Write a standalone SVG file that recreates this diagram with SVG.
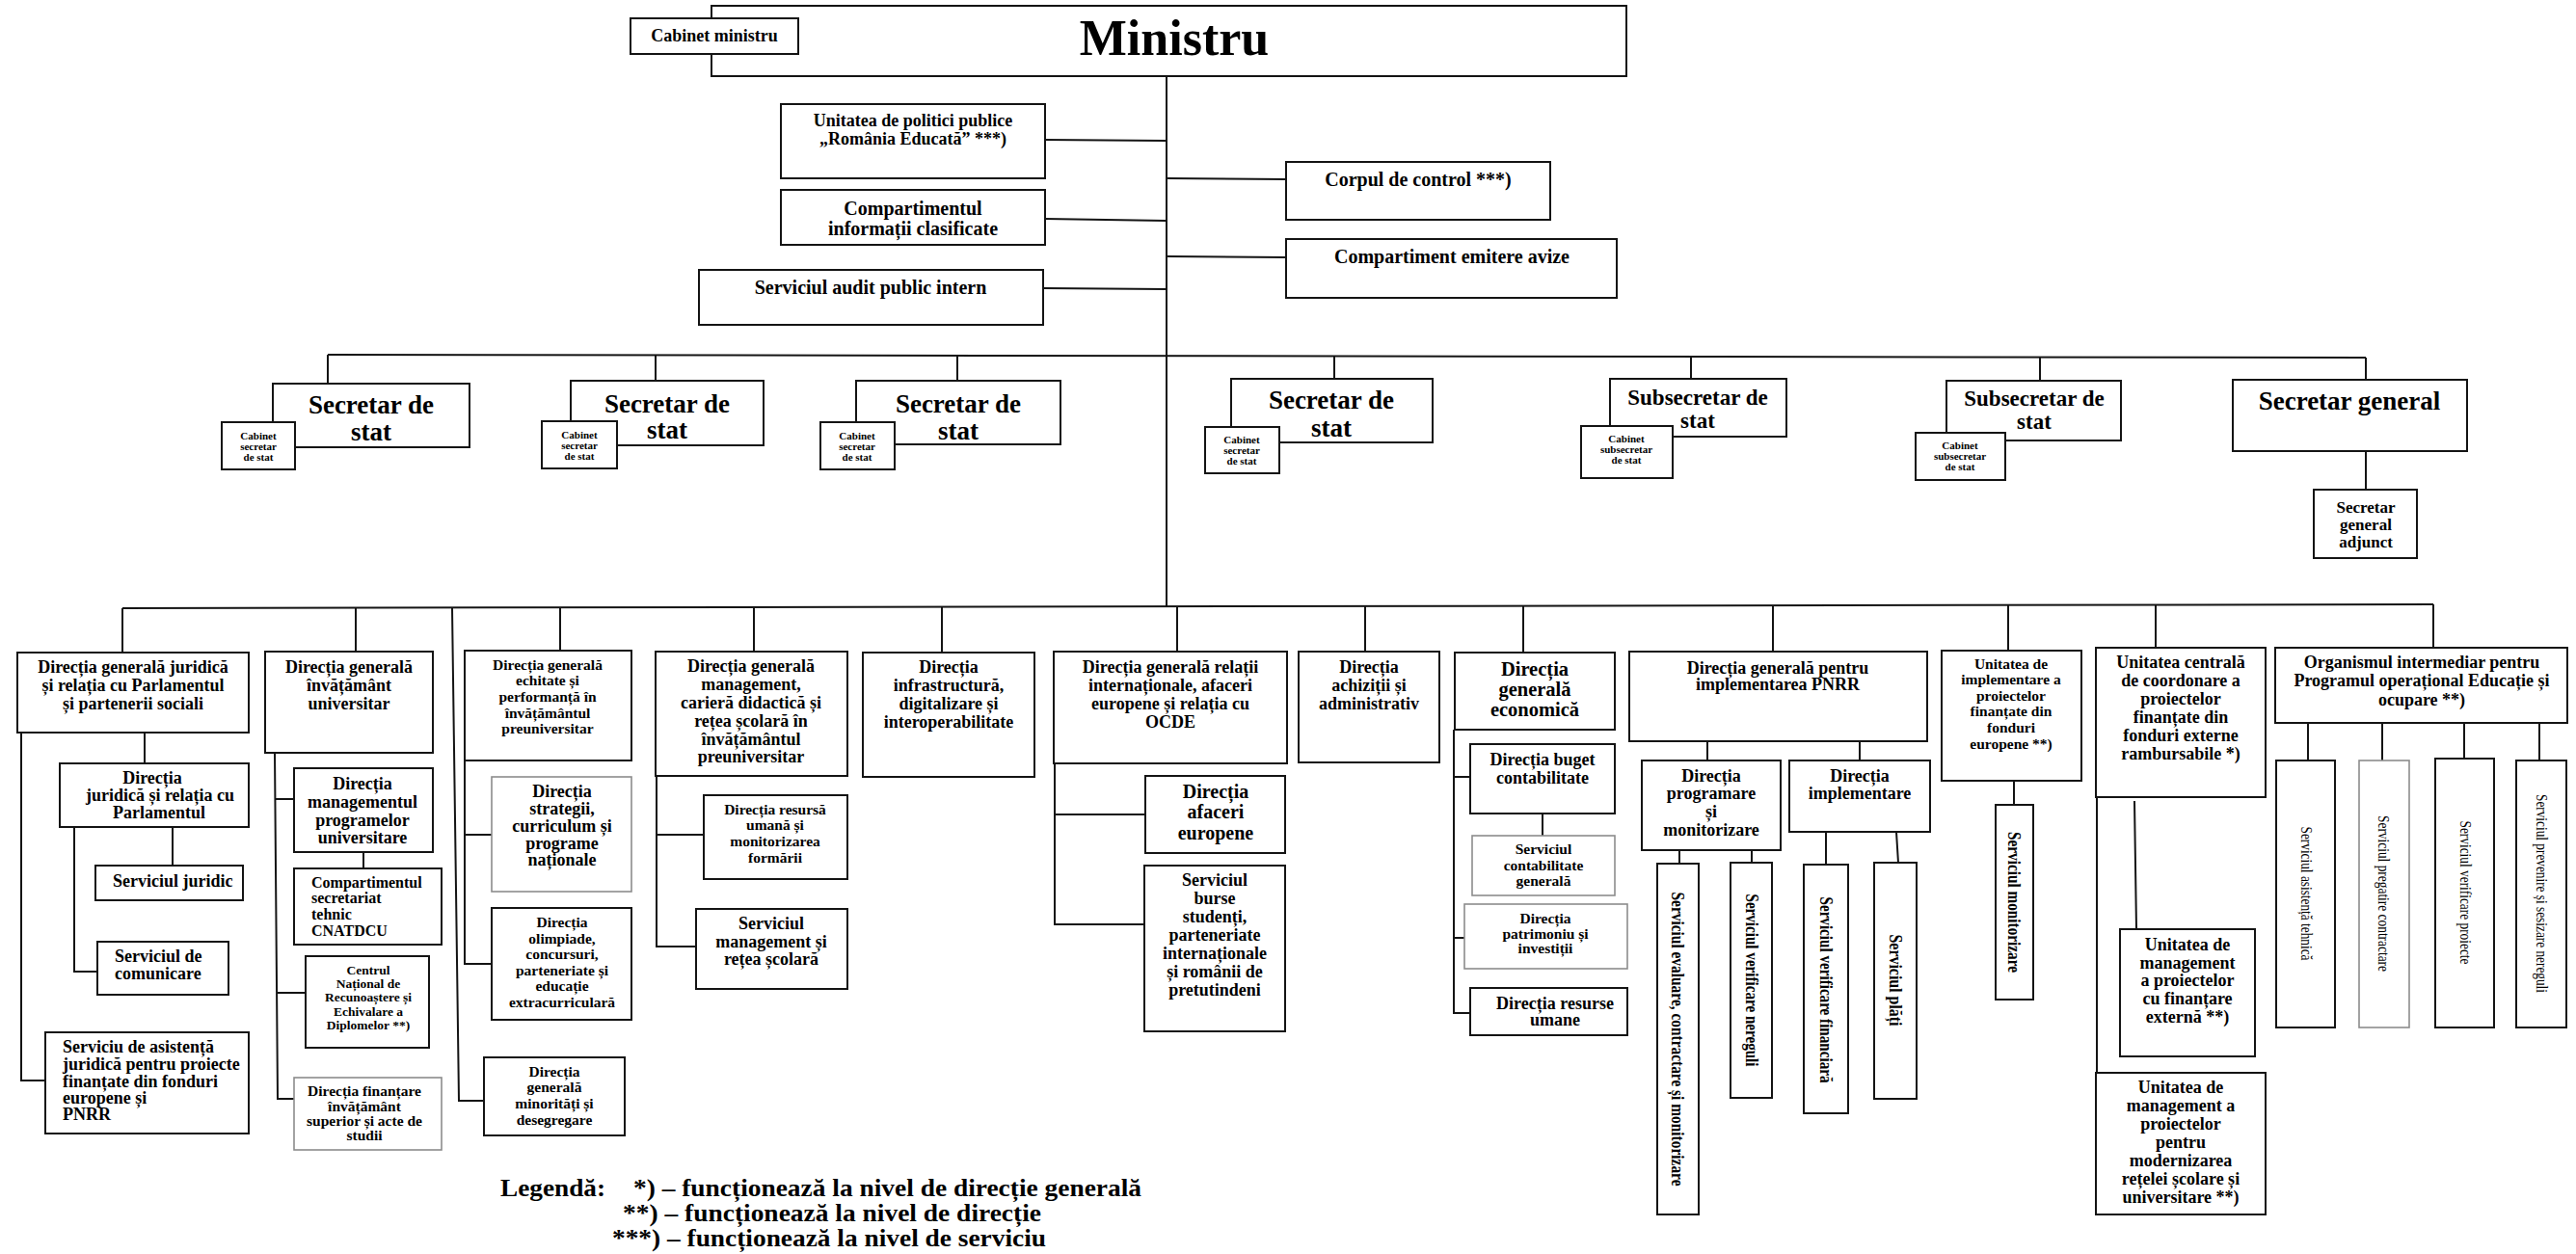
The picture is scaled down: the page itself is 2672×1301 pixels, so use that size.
<svg xmlns="http://www.w3.org/2000/svg" width="2672" height="1301" viewBox="0 0 2672 1301">
<style>
.b{fill:#fff;stroke:#141414;stroke-width:2}
.g{fill:#fff;stroke:#8c8c8c;stroke-width:1.6}
.c{stroke:#141414;stroke-width:2;fill:none}
text{font-family:"Liberation Serif","Times New Roman",serif;font-weight:bold;fill:#000}
.m{text-anchor:middle}
.v{text-anchor:middle;dominant-baseline:central}
.r{font-weight:normal}
.f11{font-size:11px}.f13{font-size:13.5px}.f15{font-size:15.5px}.f16{font-size:16px}
.f17{font-size:17px}.f18{font-size:18px}.f20{font-size:20px}.f21{font-size:20.5px}
.f23{font-size:23px}.f27{font-size:27px}.f52{font-size:52px}.f24{font-size:25px}
</style>
<rect width="2672" height="1301" fill="#fff"/>

<g id="connectors">
<path class="c" d="M1210 79V630"/>
<path class="c" d="M1084 145L1210 146M1084 227L1210 229M1082 299L1210 300M1210 185L1334 186M1210 266L1334 267"/>
<path class="c" d="M340 368L2454 371"/>
<path class="c" d="M340 368V398M680 369V395M993 369V395M1384 370V393M1754 370V393M2116 370V395M2454 371V394M2454 468V508"/>
<path class="c" d="M127 631L2524 627"/>
<path class="c" d="M127 631V677M369 631V676M581 630V675M782 630V676M977 630V677M1221 630V676M1416 629V676M1580 629V677M1839 629V676M2083 628V675M2236 627V672M2524 627V672"/>
<path class="c" d="M469 631L476 1142H502"/>
<path class="c" d="M150 760V792M179 858V898M77 858V1008H101M22 760V1121H47"/>
<path class="c" d="M285 781L288 1140H305M285 829H305M287 1030H317M377 884V901"/>
<path class="c" d="M482 782V1000H510M482 866H510"/>
<path class="c" d="M681 805V982H722M681 866H730"/>
<path class="c" d="M1094 792V959H1187M1094 845H1188"/>
<path class="c" d="M1508 757V1051H1525M1508 806H1525M1508 973H1519M1600 844V867"/>
<path class="c" d="M1771 769V789M1929 769V789M1742 882V896M1817 882V895M1894 863V897M1967 863L1969 895"/>
<path class="c" d="M2089 810V835M2214 831L2216 964M2175 824V1113"/>
<path class="c" d="M2394 750V789M2471 750V789M2556 750V787M2634 750V789"/>
</g>

<g id="ministru"><rect class="b" x="738" y="6" width="949" height="73"/><text class="m f52" x="1218" y="57">Ministru</text></g>
<g id="cabinet-ministru"><rect class="b" x="654" y="19" width="174" height="37"/><text class="m f18" x="741" y="43">Cabinet ministru</text></g>
<g id="unitatea-politici"><rect class="b" x="810" y="108" width="274" height="77"/><text class="m f18"><tspan x="947" y="131">Unitatea de politici publice</tspan><tspan x="947" y="150">„România Educată” ***)</tspan></text></g>
<g id="comp-informatii"><rect class="b" x="810" y="197" width="274" height="57"/><text class="m f20"><tspan x="947" y="223">Compartimentul</tspan><tspan x="947" y="244">informații clasificate</tspan></text></g>
<g id="audit"><rect class="b" x="725" y="280" width="357" height="57"/><text class="m f20" x="903" y="305">Serviciul audit public intern</text></g>
<g id="corpul-control"><rect class="b" x="1334" y="168" width="274" height="60"/><text class="m f20" x="1471" y="193">Corpul de control ***)</text></g>
<g id="emitere-avize"><rect class="b" x="1334" y="248" width="343" height="61"/><text class="m f20" x="1506" y="273">Compartiment emitere avize</text></g>

<g id="secretar1"><rect class="b" x="283" y="398" width="204" height="66"/><text class="m f27"><tspan x="385" y="429">Secretar de</tspan><tspan x="385" y="457">stat</tspan></text>
<rect class="b" x="230" y="438" width="76" height="49"/><text class="m f11"><tspan x="268" y="456">Cabinet</tspan><tspan x="268" y="467">secretar</tspan><tspan x="268" y="478">de stat</tspan></text></g>
<g id="secretar2"><rect class="b" x="592" y="395" width="200" height="67"/><text class="m f27"><tspan x="692" y="428">Secretar de</tspan><tspan x="692" y="455">stat</tspan></text>
<rect class="b" x="562" y="437" width="78" height="49"/><text class="m f11"><tspan x="601" y="455">Cabinet</tspan><tspan x="601" y="466">secretar</tspan><tspan x="601" y="477">de stat</tspan></text></g>
<g id="secretar3"><rect class="b" x="888" y="395" width="212" height="66"/><text class="m f27"><tspan x="994" y="428">Secretar de</tspan><tspan x="994" y="456">stat</tspan></text>
<rect class="b" x="851" y="438" width="77" height="49"/><text class="m f11"><tspan x="889" y="456">Cabinet</tspan><tspan x="889" y="467">secretar</tspan><tspan x="889" y="478">de stat</tspan></text></g>
<g id="secretar4"><rect class="b" x="1277" y="393" width="209" height="66"/><text class="m f27"><tspan x="1381" y="424">Secretar de</tspan><tspan x="1381" y="453">stat</tspan></text>
<rect class="b" x="1250" y="443" width="77" height="48"/><text class="m f11"><tspan x="1288" y="460">Cabinet</tspan><tspan x="1288" y="471">secretar</tspan><tspan x="1288" y="482">de stat</tspan></text></g>
<g id="subsecretar1"><rect class="b" x="1670" y="393" width="183" height="60"/><text class="m f23"><tspan x="1761" y="420">Subsecretar de</tspan><tspan x="1761" y="444">stat</tspan></text>
<rect class="b" x="1640" y="442" width="95" height="54"/><text class="m f11"><tspan x="1687" y="459">Cabinet</tspan><tspan x="1687" y="470">subsecretar</tspan><tspan x="1687" y="481">de stat</tspan></text></g>
<g id="subsecretar2"><rect class="b" x="2019" y="395" width="181" height="62"/><text class="m f23"><tspan x="2110" y="421">Subsecretar de</tspan><tspan x="2110" y="445">stat</tspan></text>
<rect class="b" x="1987" y="449" width="93" height="49"/><text class="m f11"><tspan x="2033" y="466">Cabinet</tspan><tspan x="2033" y="477">subsecretar</tspan><tspan x="2033" y="488">de stat</tspan></text></g>
<g id="secretar-general"><rect class="b" x="2316" y="394" width="243" height="74"/><text class="m f27" x="2437" y="425">Secretar general</text></g>
<g id="sg-adjunct"><rect class="b" x="2400" y="508" width="107" height="71"/><text class="m f17"><tspan x="2454" y="532">Secretar</tspan><tspan x="2454" y="550">general</tspan><tspan x="2454" y="568">adjunct</tspan></text></g>

<g id="dgj"><rect class="b" x="18" y="677" width="240" height="83"/><text class="m f18"><tspan x="138" y="698">Direcția generală juridică</tspan><tspan x="138" y="717">și relația cu Parlamentul</tspan><tspan x="138" y="736">și partenerii sociali</tspan></text></g>
<g id="djrp"><rect class="b" x="62" y="792" width="196" height="66"/><text class="m f18"><tspan x="158" y="813">Direcția</tspan><tspan x="166" y="831">juridică și relația cu</tspan><tspan x="165" y="849">Parlamentul</tspan></text></g>
<g id="serv-juridic"><rect class="b" x="99" y="898" width="153" height="36"/><text class="f18" x="117" y="920">Serviciul juridic</text></g>
<g id="serv-comunicare"><rect class="b" x="101" y="977" width="136" height="55"/><text class="f18"><tspan x="119" y="998">Serviciul de</tspan><tspan x="119" y="1016">comunicare</tspan></text></g>
<g id="serv-asistenta"><rect class="b" x="47" y="1071" width="211" height="105"/><text class="f18"><tspan x="65" y="1092">Serviciu de asistență</tspan><tspan x="65" y="1110">juridică pentru proiecte</tspan><tspan x="65" y="1128">finanțate din fonduri</tspan><tspan x="65" y="1145">europene și</tspan><tspan x="65" y="1162">PNRR</tspan></text></g>

<g id="dgu"><rect class="b" x="275" y="676" width="174" height="105"/><text class="m f18"><tspan x="362" y="698">Direcția generală</tspan><tspan x="362" y="717">învățământ</tspan><tspan x="362" y="736">universitar</tspan></text></g>
<g id="dmpu"><rect class="b" x="305" y="797" width="144" height="87"/><text class="m f18"><tspan x="376" y="819">Direcția</tspan><tspan x="376" y="838">managementul</tspan><tspan x="376" y="857">programelor</tspan><tspan x="376" y="875">universitare</tspan></text></g>
<g id="comp-cnatdcu"><rect class="b" x="305" y="901" width="153" height="79"/><text class="f16"><tspan x="323" y="921">Compartimentul</tspan><tspan x="323" y="937">secretariat</tspan><tspan x="323" y="954">tehnic</tspan><tspan x="323" y="971">CNATDCU</tspan></text></g>
<g id="cnred"><rect class="b" x="317" y="992" width="128" height="95"/><text class="m f13"><tspan x="382" y="1011">Centrul</tspan><tspan x="382" y="1025">Național de</tspan><tspan x="382" y="1039">Recunoaștere și</tspan><tspan x="382" y="1054">Echivalare a</tspan><tspan x="382" y="1068">Diplomelor **)</tspan></text></g>
<g id="finantare"><rect class="g" x="305" y="1118" width="153" height="75"/><text class="m f15"><tspan x="378" y="1137">Direcția finanțare</tspan><tspan x="378" y="1153">învățământ</tspan><tspan x="378" y="1168">superior și acte de</tspan><tspan x="378" y="1183">studii</tspan></text></g>

<g id="dg-echitate"><rect class="b" x="482" y="675" width="173" height="114"/><text class="m f15"><tspan x="568" y="695">Direcția generală</tspan><tspan x="568" y="711">echitate și</tspan><tspan x="568" y="728">performanță  în</tspan><tspan x="568" y="745">învățământul</tspan><tspan x="568" y="761">preuniversitar</tspan></text></g>
<g id="strategii"><rect class="g" x="510" y="806" width="145" height="119"/><text class="m f18"><tspan x="583" y="827">Direcția</tspan><tspan x="583" y="845">strategii,</tspan><tspan x="583" y="863">curriculum și</tspan><tspan x="583" y="881">programe</tspan><tspan x="583" y="898">naționale</tspan></text></g>
<g id="olimpiade"><rect class="b" x="510" y="942" width="145" height="116"/><text class="m f15"><tspan x="583" y="962">Direcția</tspan><tspan x="583" y="979">olimpiade,</tspan><tspan x="583" y="995">concursuri,</tspan><tspan x="583" y="1012">parteneriate și</tspan><tspan x="583" y="1028">educație</tspan><tspan x="583" y="1045">extracurriculară</tspan></text></g>
<g id="minoritati"><rect class="b" x="502" y="1097" width="146" height="81"/><text class="m f15"><tspan x="575" y="1117">Direcția</tspan><tspan x="575" y="1133">generală</tspan><tspan x="575" y="1150">minorități și</tspan><tspan x="575" y="1167">desegregare</tspan></text></g>

<g id="dgm"><rect class="b" x="680" y="676" width="199" height="129"/><text class="m f18"><tspan x="779" y="697">Direcția generală</tspan><tspan x="779" y="716">management,</tspan><tspan x="779" y="735">carieră didactică și</tspan><tspan x="779" y="754">rețea școlară în</tspan><tspan x="779" y="773">învățământul</tspan><tspan x="779" y="791">preuniversitar</tspan></text></g>
<g id="resursa-umana"><rect class="b" x="730" y="825" width="149" height="87"/><text class="m f15"><tspan x="804" y="845">Direcția resursă</tspan><tspan x="804" y="861">umană și</tspan><tspan x="804" y="878">monitorizarea</tspan><tspan x="804" y="895">formării</tspan></text></g>
<g id="serv-retea"><rect class="b" x="722" y="943" width="157" height="83"/><text class="m f18"><tspan x="800" y="964">Serviciul</tspan><tspan x="800" y="983">management și</tspan><tspan x="800" y="1001">rețea școlară</tspan></text></g>

<g id="infrastructura"><rect class="b" x="895" y="677" width="178" height="129"/><text class="m f18"><tspan x="984" y="698">Direcția</tspan><tspan x="984" y="717">infrastructură,</tspan><tspan x="984" y="736">digitalizare și</tspan><tspan x="984" y="755">interoperabilitate</tspan></text></g>

<g id="dgri"><rect class="b" x="1093" y="676" width="242" height="116"/><text class="m f18"><tspan x="1214" y="698">Direcția generală relații</tspan><tspan x="1214" y="717">internaționale, afaceri</tspan><tspan x="1214" y="736">europene și relația cu</tspan><tspan x="1214" y="755">OCDE</tspan></text></g>
<g id="afaceri-europene"><rect class="b" x="1188" y="805" width="145" height="80"/><text class="m f20"><tspan x="1261" y="828">Direcția</tspan><tspan x="1261" y="849">afaceri</tspan><tspan x="1261" y="871">europene</tspan></text></g>
<g id="serv-burse"><rect class="b" x="1187" y="898" width="146" height="172"/><text class="m f18"><tspan x="1260" y="919">Serviciul</tspan><tspan x="1260" y="938">burse</tspan><tspan x="1260" y="957">studenți,</tspan><tspan x="1260" y="976">parteneriate</tspan><tspan x="1260" y="995">internaționale</tspan><tspan x="1260" y="1014">și românii de</tspan><tspan x="1260" y="1033">pretutindeni</tspan></text></g>

<g id="achizitii"><rect class="b" x="1347" y="676" width="146" height="115"/><text class="m f18"><tspan x="1420" y="698">Direcția</tspan><tspan x="1420" y="717">achiziții și</tspan><tspan x="1420" y="736">administrativ</tspan></text></g>

<g id="dge"><rect class="b" x="1509" y="677" width="166" height="80"/><text class="m f21"><tspan x="1592" y="701">Direcția</tspan><tspan x="1592" y="722">generală</tspan><tspan x="1592" y="743">economică</tspan></text></g>
<g id="buget"><rect class="b" x="1525" y="772" width="150" height="72"/><text class="m f18"><tspan x="1600" y="794">Direcția buget</tspan><tspan x="1600" y="813">contabilitate</tspan></text></g>
<g id="serv-contabilitate"><rect class="g" x="1527" y="867" width="148" height="62"/><text class="m f15"><tspan x="1601" y="886">Serviciul</tspan><tspan x="1601" y="903">contabilitate</tspan><tspan x="1601" y="919">generală</tspan></text></g>
<g id="patrimoniu"><rect class="g" x="1519" y="938" width="169" height="67"/><text class="m f15"><tspan x="1603" y="958">Direcția</tspan><tspan x="1603" y="974">patrimoniu și</tspan><tspan x="1603" y="989">investiții</tspan></text></g>
<g id="resurse-umane"><rect class="b" x="1525" y="1025" width="163" height="49"/><text class="m f18"><tspan x="1613" y="1047">Direcția resurse</tspan><tspan x="1613" y="1064">umane</tspan></text></g>

<g id="dg-pnrr"><rect class="b" x="1690" y="676" width="309" height="93"/><text class="m f18"><tspan x="1844" y="699">Direcția generală pentru</tspan><tspan x="1844" y="716">implementarea PNRR</tspan></text></g>
<g id="programare"><rect class="b" x="1703" y="789" width="144" height="93"/><text class="m f18"><tspan x="1775" y="811">Direcția</tspan><tspan x="1775" y="829">programare</tspan><tspan x="1775" y="848">și</tspan><tspan x="1775" y="867">monitorizare</tspan></text></g>
<g id="implementare"><rect class="b" x="1856" y="789" width="146" height="74"/><text class="m f18"><tspan x="1929" y="811">Direcția</tspan><tspan x="1929" y="829">implementare</tspan></text></g>
<g id="serv-evaluare"><rect class="b" x="1719" y="896" width="43" height="364"/><text class="v f18" x="1740" y="1078" transform="rotate(90 1740 1078)" textLength="305" lengthAdjust="spacingAndGlyphs">Serviciul evaluare, contractare  și monitorizare</text></g>
<g id="serv-nereguli"><rect class="b" x="1795" y="895" width="43" height="244"/><text class="v f18" x="1817" y="1017" transform="rotate(90 1817 1017)" textLength="179" lengthAdjust="spacingAndGlyphs">Serviciul verificare nereguli</text></g>
<g id="serv-financiara"><rect class="b" x="1871" y="897" width="46" height="258"/><text class="v f18" x="1894" y="1027" transform="rotate(90 1894 1027)" textLength="193" lengthAdjust="spacingAndGlyphs">Serviciul verificare financiară</text></g>
<g id="serv-plati"><rect class="b" x="1944" y="895" width="44" height="245"/><text class="v f18" x="1966" y="1017" transform="rotate(90 1966 1017)" textLength="95" lengthAdjust="spacingAndGlyphs">Serviciul  plăți</text></g>

<g id="uip"><rect class="b" x="2014" y="675" width="145" height="135"/><text class="m f15"><tspan x="2086" y="694">Unitatea de</tspan><tspan x="2086" y="710">implementare a</tspan><tspan x="2086" y="727">proiectelor</tspan><tspan x="2086" y="743">finanțate din</tspan><tspan x="2086" y="760">fonduri</tspan><tspan x="2086" y="777">europene **)</tspan></text></g>
<g id="serv-monitorizare"><rect class="b" x="2070" y="835" width="39" height="202"/><text class="v f18" x="2089" y="936" transform="rotate(90 2089 936)" textLength="146" lengthAdjust="spacingAndGlyphs">Serviciul monitorizare</text></g>

<g id="ucc"><rect class="b" x="2174" y="672" width="176" height="155"/><text class="m f18"><tspan x="2262" y="693">Unitatea centrală</tspan><tspan x="2262" y="712">de coordonare a</tspan><tspan x="2262" y="731">proiectelor</tspan><tspan x="2262" y="750">finanțate din</tspan><tspan x="2262" y="769">fonduri  externe</tspan><tspan x="2262" y="788">rambursabile *)</tspan></text></g>
<g id="um-externa"><rect class="b" x="2199" y="964" width="140" height="132"/><text class="m f18"><tspan x="2269" y="986">Unitatea de</tspan><tspan x="2269" y="1005">management</tspan><tspan x="2269" y="1023">a proiectelor</tspan><tspan x="2269" y="1042">cu finanțare</tspan><tspan x="2269" y="1061">externă **)</tspan></text></g>
<g id="um-modernizare"><rect class="b" x="2174" y="1113" width="176" height="147"/><text class="m f18"><tspan x="2262" y="1134">Unitatea de</tspan><tspan x="2262" y="1153">management a</tspan><tspan x="2262" y="1172">proiectelor</tspan><tspan x="2262" y="1191">pentru</tspan><tspan x="2262" y="1210">modernizarea</tspan><tspan x="2262" y="1229">rețelei școlare  și</tspan><tspan x="2262" y="1248">universitare **)</tspan></text></g>

<g id="oi"><rect class="b" x="2360" y="672" width="303" height="78"/><text class="m f18"><tspan x="2512" y="693">Organismul intermediar pentru</tspan><tspan x="2512" y="712">Programul operațional Educație și</tspan><tspan x="2512" y="732">ocupare **)</tspan></text></g>
<g id="serv-asistenta-tehnica"><rect class="b" x="2361" y="789" width="61" height="277"/><text class="v r f16" x="2392" y="927" transform="rotate(90 2392 927)" textLength="139" lengthAdjust="spacingAndGlyphs">Serviciul asistență tehnică</text></g>
<g id="serv-pregatire"><rect class="g" x="2447" y="789" width="52" height="277"/><text class="v r f16" x="2472" y="927" transform="rotate(90 2472 927)" textLength="162" lengthAdjust="spacingAndGlyphs">Serviciul pregatire contractare</text></g>
<g id="serv-verificare-proiecte"><rect class="b" x="2526" y="787" width="61" height="279"/><text class="v r f16" x="2557" y="926" transform="rotate(90 2557 926)" textLength="149" lengthAdjust="spacingAndGlyphs">Serviciul verificare proiecte</text></g>
<g id="serv-prevenire"><rect class="b" x="2610" y="789" width="52" height="277"/><text class="v r f16" x="2636" y="927" transform="rotate(90 2636 927)" textLength="206" lengthAdjust="spacingAndGlyphs">Serviciul prevenire și sesizare nereguli</text></g>

<g id="legenda">
<text class="f24" x="519" y="1241" textLength="109" lengthAdjust="spacingAndGlyphs">Legendă:</text>
<text class="f24" x="657" y="1241" textLength="527" lengthAdjust="spacingAndGlyphs">*) – funcționează la nivel de direcție generală</text>
<text class="f24" x="646" y="1267" textLength="434" lengthAdjust="spacingAndGlyphs">**) – funcționează la nivel de direcție</text>
<text class="f24" x="635" y="1293" textLength="450" lengthAdjust="spacingAndGlyphs">***) – funcționează la nivel de serviciu</text>
</g>
</svg>
